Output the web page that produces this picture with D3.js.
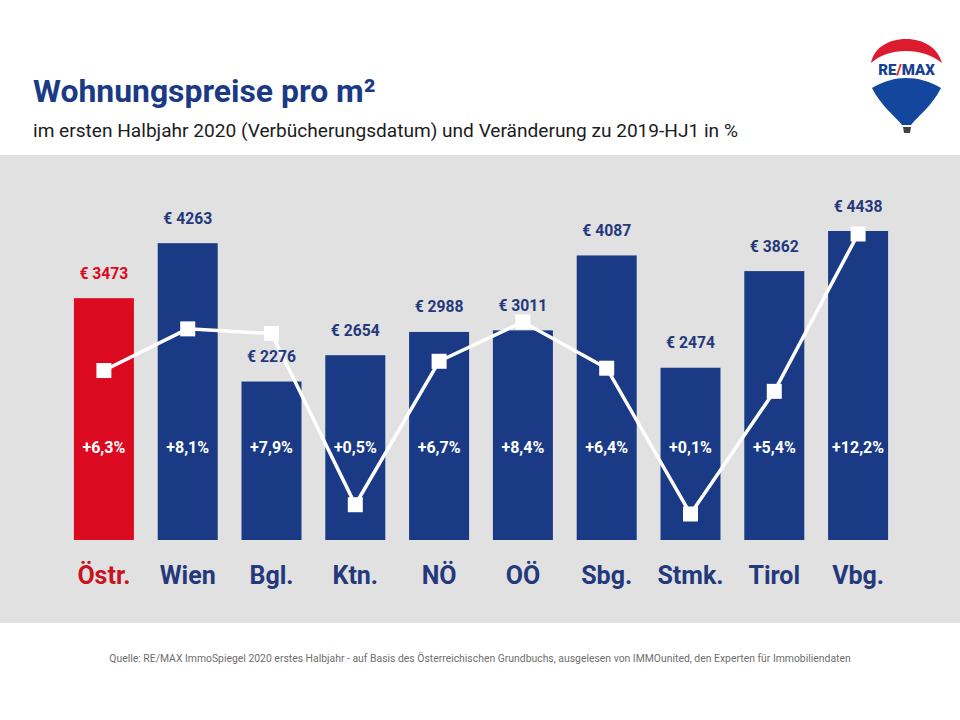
<!DOCTYPE html>
<html>
<head>
<meta charset="utf-8">
<script src="https://cdn.jsdelivr.net/npm/d3@7"></script>
<style>
  html, body { margin: 0; padding: 0; background: #fff; }
  svg { display: block; }
  text { font-family: Roboto, sans-serif; }
</style>
</head>
<body>
<div id="chart"></div>
<script>
var categories = ["Östr.", "Wien", "Bgl.", "Ktn.", "NÖ", "OÖ", "Sbg.", "Stmk.", "Tirol", "Vbg."];
var prices     = [3473, 4263, 2276, 2654, 2988, 3011, 4087, 2474, 3862, 4438];
var changes    = [6.3, 8.1, 7.9, 0.5, 6.7, 8.4, 6.4, 0.1, 5.4, 12.2];

var blue = "#1a3a85";
var red  = "#dc0a20";

var svg = d3.select("#chart").append("svg")
  .attr("width", 960)
  .attr("height", 720);

svg.append("rect")
  .attr("x", 0).attr("y", 155)
  .attr("width", 960).attr("height", 468)
  .attr("fill", "#e1e1e1");

svg.append("text")
  .attr("x", 33).attr("y", 102)
  .attr("font-size", 31.9)
  .attr("font-weight", 700)
  .attr("fill", blue)
  .text("Wohnungspreise pro m²");

svg.append("text")
  .attr("x", 33).attr("y", 137)
  .attr("font-size", 19.1)
  .attr("fill", "#1c1c1c")
  .text("im ersten Halbjahr 2020 (Verbücherungsdatum) und Veränderung zu 2019-HJ1 in %");

var x = d3.scaleBand()
  .domain(categories)
  .range([62, 900])
  .paddingInner(0.284)
  .paddingOuter(0.142);

var y = d3.scaleLinear().domain([0, 4438]).range([540, 231]);
var yChange = d3.scaleLinear().domain([0, 12.2]).range([516.3, 234]);

function colorOf(i) { return i == 0 ? red : blue; }

var rows = categories.map(function(c, i) {
  return {cat: c, price: prices[i], change: changes[i], i: i};
});

svg.selectAll("rect.bar")
  .data(rows)
  .enter().append("rect")
  .attr("class", "bar")
  .attr("x", function(d) { return x(d.cat); })
  .attr("y", function(d) { return y(d.price); })
  .attr("width", x.bandwidth())
  .attr("height", function(d) { return 540 - y(d.price); })
  .attr("fill", function(d) { return colorOf(d.i); });

var line = d3.line()
  .x(function(d) { return x(d.cat) + x.bandwidth() / 2; })
  .y(function(d) { return yChange(d.change); });

svg.append("path")
  .datum(rows)
  .attr("d", line)
  .attr("fill", "none")
  .attr("stroke", "#fff")
  .attr("stroke-width", 3.5);

svg.selectAll("rect.marker")
  .data(rows)
  .enter().append("rect")
  .attr("class", "marker")
  .attr("x", function(d) { return x(d.cat) + x.bandwidth() / 2 - 7.5; })
  .attr("y", function(d) { return yChange(d.change) - 7.5; })
  .attr("width", 15)
  .attr("height", 15)
  .attr("fill", "#fff");

// labels go after the line, it runs behind some of them
svg.selectAll("text.price")
  .data(rows)
  .enter().append("text")
  .attr("class", "price")
  .attr("x", function(d) { return x(d.cat) + x.bandwidth() / 2; })
  .attr("y", function(d) { return y(d.price) - 19.5; })
  .attr("text-anchor", "middle")
  .attr("font-size", 15.7)
  .attr("font-weight", 700)
  .attr("fill", function(d) { return d.i == 0 ? red : "#24397c"; })
  .text(function(d) { return "€ " + d.price; });

svg.selectAll("text.change")
  .data(rows)
  .enter().append("text")
  .attr("class", "change")
  .attr("x", function(d) { return x(d.cat) + x.bandwidth() / 2; })
  .attr("y", 452.5)
  .attr("text-anchor", "middle")
  .attr("font-size", 16)
  .attr("font-weight", 700)
  .attr("fill", "#fff")
  .text(function(d) { return "+" + String(d.change.toFixed(1)).replace(".", ",") + "%"; });

// category names
var axis = svg.append("g")
  .attr("transform", "translate(0,575)")
  .call(d3.axisBottom(x).tickSize(0).tickPadding(0));

axis.select(".domain").remove();
axis.selectAll("text")
  .attr("y", 9)
  .attr("dy", 0)
  .attr("font-size", 25)
  .attr("font-weight", 700)
  .style("font-family", "Roboto, sans-serif")
  .attr("fill", function(d, i) { return i == 0 ? "#c8141f" : "#24397c"; });

svg.append("text")
  .attr("x", 480).attr("y", 662)
  .attr("text-anchor", "middle")
  .attr("font-size", 10.4)
  .attr("fill", "#6e6e6e")
  .text("Quelle: RE/MAX ImmoSpiegel 2020 erstes Halbjahr - auf Basis des Österreichischen Grundbuchs, ausgelesen von IMMOunited, den Experten für Immobiliendaten");

// balloon logo
var logo = svg.append("g");

logo.append("path")
  .attr("d", "M871,63 C874,48 888,39 906,39 C924,39 938,48 942,63 C932,55 920,51 906,51 C892,51 880,55 871,63 Z")
  .attr("fill", "#dc1c2e");
logo.append("path")
  .attr("d", "M872,88 C884,81 895,78 906,78 C918,78 929,81 941,88 C932,106 918,116 911,125 L902,125 C895,116 881,106 872,88 Z")
  .attr("fill", "#12479d");
logo.append("path")
  .attr("d", "M903,127 L911,127 L910,133 L904,133 Z")
  .attr("fill", "#444");

var logoText = logo.append("text")
  .attr("x", 906.5).attr("y", 75)
  .attr("text-anchor", "middle")
  .attr("font-size", 15)
  .attr("font-weight", 900)
  .attr("fill", "#14418f");
logoText.append("tspan").text("RE");
logoText.append("tspan").attr("fill", "#dc1c2e").text("/");
logoText.append("tspan").text("MAX");
</script>
</body>
</html>
